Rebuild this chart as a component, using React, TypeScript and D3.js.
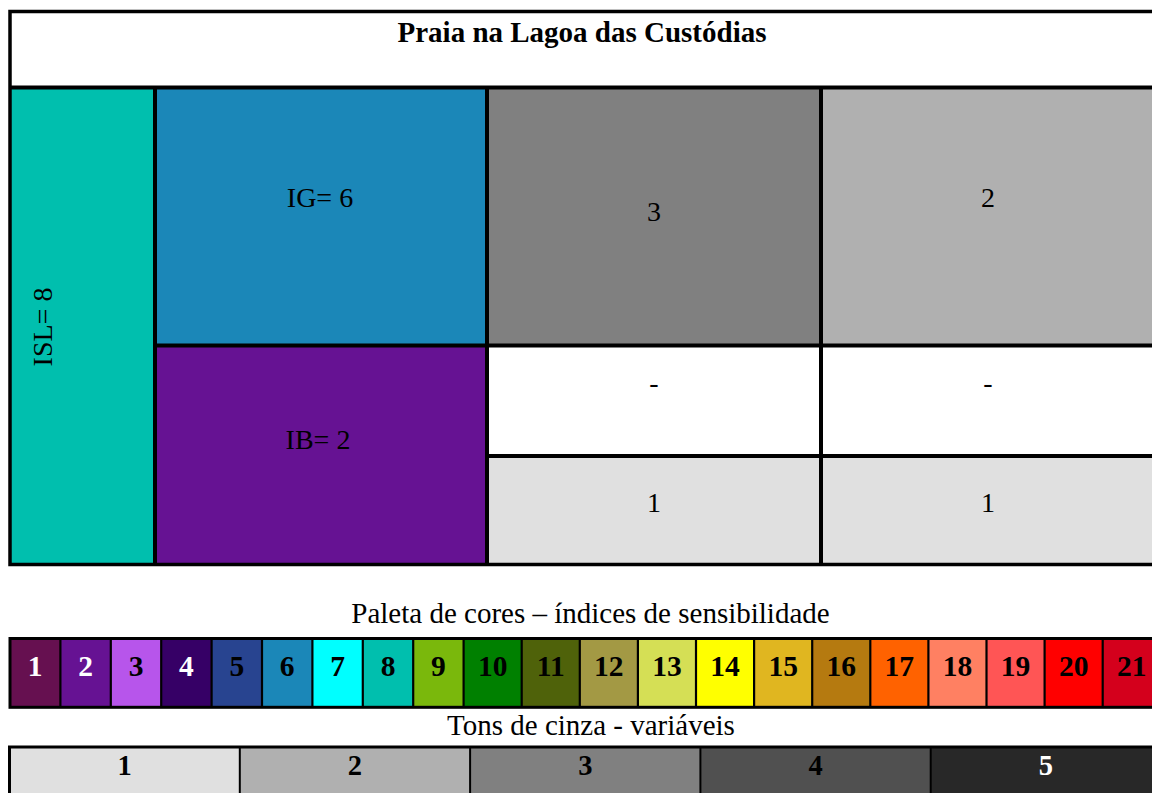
import React from "react";
import * as d3 from "d3";

// ---- data ----
const title = "Praia na Lagoa das Custódias";
const islIndex = 8;
const igIndex = 6;
const ibIndex = 2;
const geoValues = ["3", "2"];
const bioRow1 = ["-", "-"];
const bioRow2 = ["1", "1"];

const paletteLabels = d3.range(1, 22).map(String);
const paletteColors = [
  "#661050", "#661293", "#B755EB", "#360066", "#284490", "#1B87B8", "#00FFFF",
  "#00BFAE", "#7AB80C", "#008000", "#4F620A", "#A39944", "#D5DF55", "#FFFF00",
  "#E0B620", "#B57A10", "#FF6200", "#FF8062", "#FF5555", "#FF0000", "#D4001C",
];
const paletteWhiteText = ["1", "2", "4"];
const paletteTitle = "Paleta de cores – índices de sensibilidade";

const greyLabels = ["1", "2", "3", "4", "5"];
const greyColors = ["#E0E0E0", "#B0B0B0", "#808080", "#505050", "#282828"];
const greyWhiteText = ["5"];
const greyTitle = "Tons de cinza - variáveis";

const FONT = "'Liberation Serif', 'Times New Roman', serif";

function greyFor(v: string) {
  const i = greyLabels.indexOf(v);
  return i >= 0 ? greyColors[i] : "#FFFFFF";
}

export default function App() {
  // main table geometry
  const xL = 10, x1 = 155, x2 = 487, x3 = 821, xR = 1155;
  const yT = 11.5, y1 = 87.5, y2 = 345.5, y3 = 456, yB = 564.5;
  const colX = d3.scalePoint<number>().domain([0, 1]).range([(x2 + x3) / 2, (x3 + xR) / 2]);
  const colL = [x2, x3];
  const colR = [x3, xR];

  // palette geometry: columns sized by label length
  const cellW = (l: string) => (l.length === 1 ? 50.4 : 58.1);
  const pStarts: number[] = [];
  let acc = 10;
  paletteLabels.forEach((l) => {
    pStarts.push(acc);
    acc += cellW(l);
  });
  const pTop = 638.5, pBot = 707.3;

  const gx = d3.scaleBand<string>().domain(greyLabels).range([9.5, 1161]).padding(0);
  const gTop = 747, gBot = 800;

  const lineW = 4;

  return (
    <svg
      width={1152}
      height={793}
      style={{ position: "absolute", left: 0, top: 0, display: "block", background: "#fff" }}
      fontFamily={FONT}
    >
      {/* fills */}
      <rect x={xL} y={yT} width={xR - xL} height={y1 - yT} fill="#fff" />
      <rect x={xL} y={y1} width={x1 - xL} height={yB - y1} fill={paletteColors[islIndex - 1]} />
      <rect x={x1} y={y1} width={x2 - x1} height={y2 - y1} fill={paletteColors[igIndex - 1]} />
      <rect x={x1} y={y2} width={x2 - x1} height={yB - y2} fill={paletteColors[ibIndex - 1]} />
      {geoValues.map((v, i) => (
        <rect key={"g" + i} x={colL[i]} y={y1} width={colR[i] - colL[i]} height={y2 - y1} fill={greyFor(v)} />
      ))}
      {bioRow1.map((v, i) => (
        <rect key={"b1" + i} x={colL[i]} y={y2} width={colR[i] - colL[i]} height={y3 - y2} fill={greyFor(v)} />
      ))}
      {bioRow2.map((v, i) => (
        <rect key={"b2" + i} x={colL[i]} y={y3} width={colR[i] - colL[i]} height={yB - y3} fill={greyFor(v)} />
      ))}

      {/* lines */}
      <g stroke="#000" strokeWidth={lineW} fill="none">
        <rect x={xL} y={yT} width={xR - xL} height={yB - yT} strokeWidth={3.5} />
        <line x1={xL} x2={xR} y1={y1} y2={y1} />
        <line x1={x1} x2={x1} y1={y1} y2={yB} />
        <line x1={x2} x2={x2} y1={y1} y2={yB} />
        <line x1={x3} x2={x3} y1={y1} y2={yB} />
        <line x1={x1} x2={xR} y1={y2} y2={y2} />
        <line x1={x2} x2={xR} y1={y3} y2={y3} />
      </g>

      {/* texts */}
      <text x={582} y={41.5} textAnchor="middle" fontWeight="bold" fontSize={29}>{title}</text>
      <text transform="translate(52,327) rotate(-90)" textAnchor="middle" fontSize={28}>{`ISL= ${islIndex}`}</text>
      <text x={320} y={207} textAnchor="middle" fontSize={28}>{`IG= ${igIndex}`}</text>
      <text x={318} y={449} textAnchor="middle" fontSize={28}>{`IB= ${ibIndex}`}</text>
      {geoValues.map((v, i) => (
        <text key={"tg" + i} x={colX(i)} y={i === 0 ? 221 : 207} textAnchor="middle" fontSize={28}>{v}</text>
      ))}
      {bioRow1.map((v, i) => (
        <text key={"tb1" + i} x={colX(i)} y={392} textAnchor="middle" fontSize={28}>{v}</text>
      ))}
      {bioRow2.map((v, i) => (
        <text key={"tb2" + i} x={colX(i)} y={512} textAnchor="middle" fontSize={28}>{v}</text>
      ))}

      {/* palette */}
      <text x={590.5} y={623} textAnchor="middle" fontSize={29}>{paletteTitle}</text>
      {paletteLabels.map((l, i) => (
        <rect key={"p" + l} x={pStarts[i]} y={pTop} width={cellW(l)} height={pBot - pTop} fill={paletteColors[i]} />
      ))}
      {paletteLabels.slice(1).map((l, i) => (
        <line key={"pl" + l} x1={pStarts[i + 1]} x2={pStarts[i + 1]} y1={pTop} y2={pBot} stroke="#000" strokeWidth={2.2} />
      ))}
      <rect x={10} y={pTop} width={acc - 10} height={pBot - pTop} fill="none" stroke="#000" strokeWidth={3} />
      {paletteLabels.map((l, i) => (
        <text key={"pt" + l} x={pStarts[i] + cellW(l) / 2} y={675.5} textAnchor="middle" fontWeight="bold" fontSize={29.5}
          fill={paletteWhiteText.includes(l) ? "#fff" : "#000"}>{l}</text>
      ))}

      {/* grey scale */}
      <text x={591} y={735} textAnchor="middle" fontSize={29}>{greyTitle}</text>
      {greyLabels.map((l, i) => (
        <rect key={"gr" + l} x={gx(l)} y={gTop} width={gx.bandwidth()} height={gBot - gTop} fill={greyColors[i]} />
      ))}
      {greyLabels.slice(1).map((l) => (
        <line key={"gl" + l} x1={gx(l)} x2={gx(l)} y1={gTop} y2={gBot} stroke="#000" strokeWidth={2} />
      ))}
      <rect x={9.5} y={gTop} width={1161 - 9.5} height={gBot - gTop} fill="none" stroke="#000" strokeWidth={3} />
      {greyLabels.map((l) => (
        <text key={"gt" + l} x={(gx(l) as number) + gx.bandwidth() / 2} y={775} textAnchor="middle" fontWeight="bold" fontSize={28.5}
          fill={greyWhiteText.includes(l) ? "#fff" : "#000"}>{l}</text>
      ))}
    </svg>
  );
}
